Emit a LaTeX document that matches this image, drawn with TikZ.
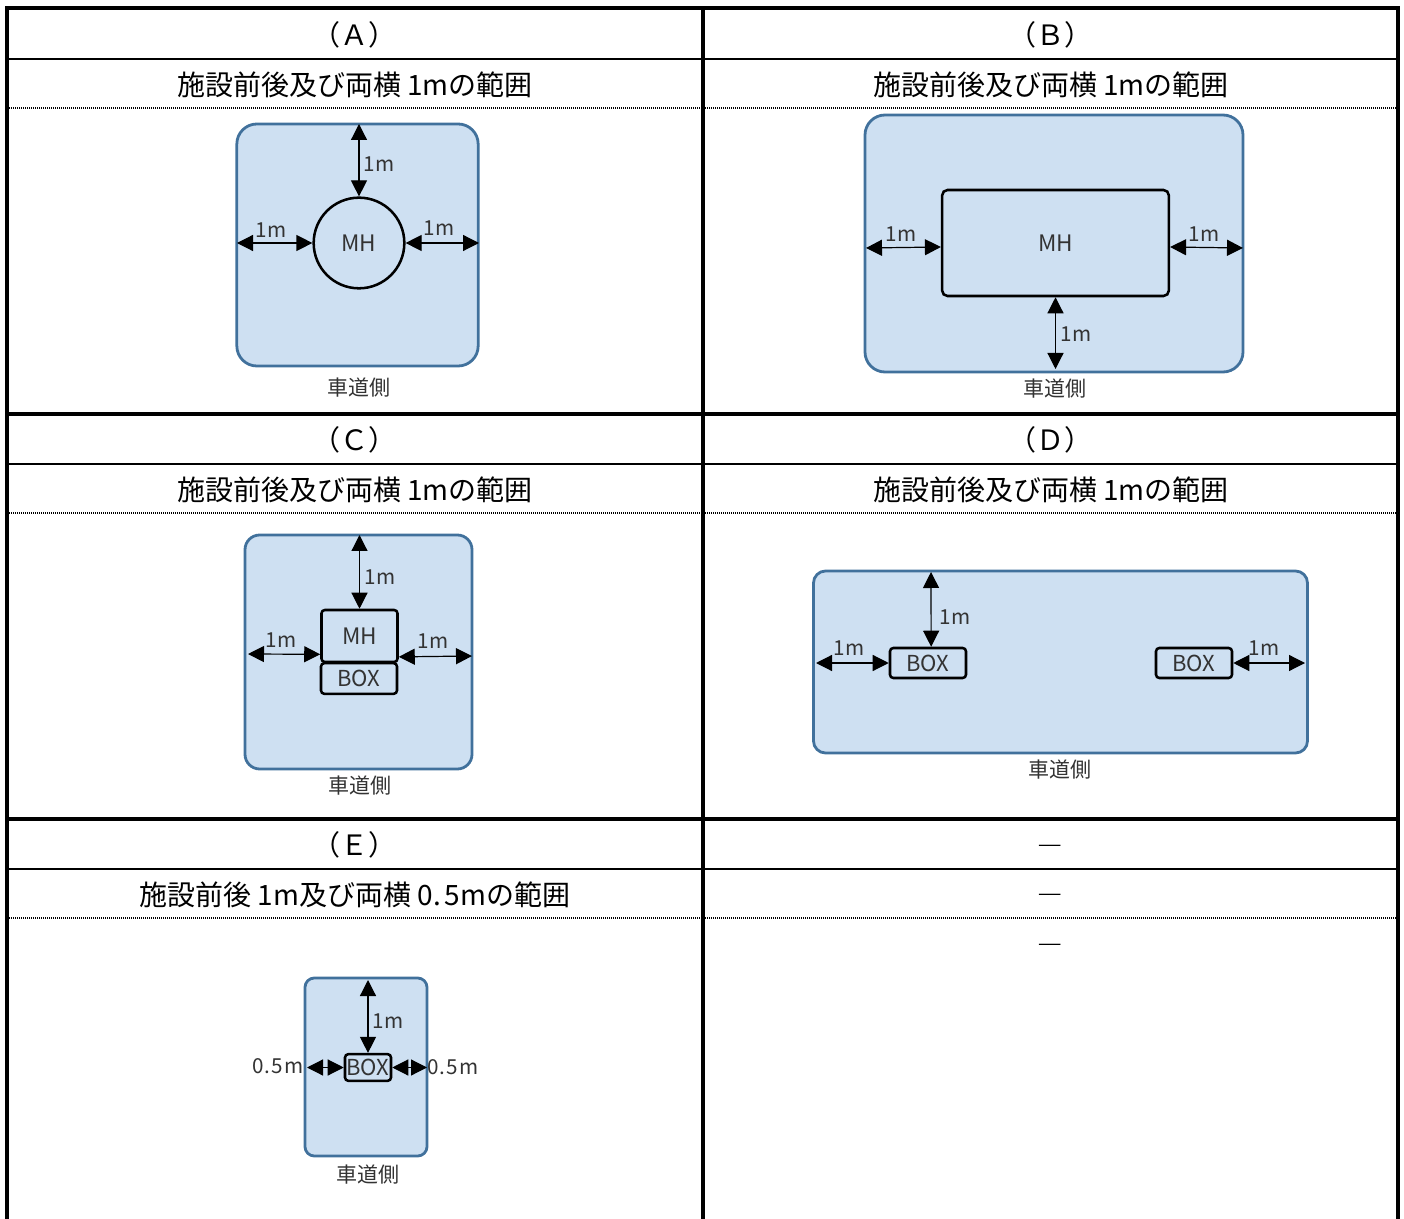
\documentclass[tikz,border=0pt]{standalone}
\usepackage{fontspec}
\newfontfamily\jpfont{Noto Sans CJK JP}
\newfontfamily\labfont[LetterSpace=6]{Noto Sans CJK JP}
\usetikzlibrary{arrows.meta}

\definecolor{zonefill}{HTML}{CEE0F2}
\definecolor{zoneline}{HTML}{41719C}
\definecolor{labgray}{HTML}{333333}

\begin{document}
\begin{tikzpicture}[x=0.75pt,y=-0.75pt]

    \useasboundingbox (0,0) rectangle (1404,1219);

    % table
    \begin{scope}[line cap=rect]
        \draw [line width=3pt] (7,8) -- (1398,8);
        \draw [line width=3pt] (7,8) -- (7,1219);
        \draw [line width=3pt] (703,8) -- (703,1219);
        \draw [line width=3pt] (1398,8) -- (1398,1219);
        \draw [line width=3pt] (7,414) -- (1398,414);
        \draw [line width=3pt] (7,819) -- (1398,819);
        \draw [line width=1.4pt] (7,59) -- (1398,59);
        \draw [line width=1.4pt] (7,464) -- (1398,464);
        \draw [line width=1.4pt] (7,869) -- (1398,869);
    \end{scope}
    \begin{scope}[line width=1.3pt, dash pattern=on 1pt off 0.5pt]
        \draw (9,108) -- (1396,108);
        \draw (9,513) -- (1396,513);
        \draw (9,918) -- (1396,918);
    \end{scope}

    % headings
    \begin{scope}[every node/.style={font=\jpfont\fontsize{21}{24}\selectfont,inner sep=0pt}]
        \node (headA) at (354,35) {（Ａ）};
        \node (headB) at (1050,35) {（Ｂ）};
        \node (headC) at (354,440) {（Ｃ）};
        \node (headD) at (1050,440) {（Ｄ）};
        \node (headE) at (354,845) {（Ｅ）};
        \node (titleA) at (355,84.5) {施設前後及び両横 1mの範囲};
        \node (titleB) at (1051,84.5) {施設前後及び両横 1mの範囲};
        \node (titleC) at (355,489.5) {施設前後及び両横 1mの範囲};
        \node (titleD) at (1051,489.5) {施設前後及び両横 1mの範囲};
        \node (titleE) at (355,894.5) {施設前後 1m及び両横 0.\kern3pt 5mの範囲};
        \node [font=\jpfont\bfseries\fontsize{19}{24}\selectfont] (dash1) at (1050,850) {―};
        \node [font=\jpfont\bfseries\fontsize{19}{24}\selectfont] (dash2) at (1050,899) {―};
        \node [font=\jpfont\bfseries\fontsize{19}{24}\selectfont] (dash3) at (1050,949) {―};
    \end{scope}

    % zones
    \begin{scope}[every node/.style={draw=zoneline,fill=zonefill,line width=2.1pt,rounded corners=15pt,inner sep=0pt}]
        \node [minimum width=181pt,minimum height=181.5pt] (zoneA) at (357.5,245) {};
        \node [minimum width=283.5pt,minimum height=192.75pt] (zoneB) at (1054,243.5) {};
        \node [minimum width=170.25pt,minimum height=175.5pt,rounded corners=11pt] (zoneC) at (358.5,652) {};
        \node [minimum width=370.5pt,minimum height=136.5pt,rounded corners=9pt] (zoneD) at (1060.5,662) {};
        \node [minimum width=91.5pt,minimum height=133.5pt,rounded corners=7pt] (zoneE) at (366,1067) {};
    \end{scope}

    % facilities
    \begin{scope}[every node/.style={draw=black,line width=1.9pt,rounded corners=2.5pt,inner sep=0pt,text=labgray,font=\jpfont\fontsize{16.5}{18}\selectfont}]
        \node [circle,minimum size=68pt,font=\jpfont\fontsize{17}{18}\selectfont] (mhA) at (359,243) {MH};
        \node [minimum width=170pt,minimum height=79.5pt,rounded corners=4pt,font=\jpfont\fontsize{17}{18}\selectfont] (mhB) at (1055.5,243) {MH};
        \node [minimum width=57pt,minimum height=39pt,font=\jpfont\fontsize{17}{18}\selectfont] (mhC) at (359.5,636) {MH};
        \node [minimum width=57pt,minimum height=23pt] (boxC) at (359,678.5) {BOX};
        \node [minimum width=57pt,minimum height=22.5pt] (boxD) at (928,663) {BOX};
        \node [minimum width=57pt,minimum height=22.5pt] (boxDD) at (1194,663) {BOX};
        \node [minimum width=34.5pt,minimum height=20pt] (boxE) at (368,1067.5) {BOX};
    \end{scope}

    % free ends on the zone edges
    \coordinate (topA) at (359,124);
    \coordinate (leftA) at (237,243);
    \coordinate (rightA) at (479,243);
    \coordinate (leftB) at (866,248);
    \coordinate (rightB) at (1243,248);
    \coordinate (botB) at (1055.5,369);
    \coordinate (topC) at (359.5,535);
    \coordinate (leftC) at (248,654);
    \coordinate (rightC) at (472,656);
    \coordinate (topD) at (931,572);
    \coordinate (leftD) at (816,663);
    \coordinate (rightD) at (1305,663);
    \coordinate (topE) at (368,980);
    \coordinate (leftE) at (307,1067.5);
    \coordinate (rightE) at (427,1067.5);

    % measures
    \begin{scope}[>={Triangle[length=12pt,width=12pt]},line width=0.9pt]
        \path [<->] (topA) edge (mhA);
        \path [<->] (leftA) edge (mhA);
        \path [<->] (rightA) edge (mhA);

        \path [<->] (leftB) edge (mhB.182.5);
        \path [<->] (rightB) edge (mhB.-2.5);
        \path [<->] (botB) edge (mhB);

        \path [<->] (topC) edge (mhC);
        \path [<->] (leftC) edge (mhC.205);
        \path [<->] (rightC) edge (mhC.-28);

        \path [<->] (topD) edge (boxD.79);
        \path [<->] (leftD) edge (boxD);
        \path [<->] (rightD) edge (boxDD);

        \path [<->] (topE) edge (boxE);
        \path [<->] (leftE) edge (boxE);
        \path [<->] (rightE) edge (boxE);
    \end{scope}

    % labels
    \begin{scope}[every node/.style={inner sep=0pt,text=labgray,font=\labfont\fontsize{15.5}{18}\selectfont}]
        \node (lenA1) at (379,164) {1m};
        \node (lenA2) at (271,230) {1m};
        \node (lenA3) at (439,228) {1m};
        \node (lenB1) at (901,234) {1m};
        \node (lenB2) at (1204,234) {1m};
        \node (lenB3) at (1076,334) {1m};
        \node (lenC1) at (380,577) {1m};
        \node (lenC2) at (281,640) {1m};
        \node (lenC3) at (433,641) {1m};
        \node (lenD1) at (955,617) {1m};
        \node (lenD2) at (849,648) {1m};
        \node (lenD3) at (1264,648) {1m};
        \node (lenE1) at (388,1021) {1m};
        \node (lenE2) at (278,1066) {0.5m};
        \node (lenE3) at (453,1067) {0.5m};
    \end{scope}

    \begin{scope}[every node/.style={inner sep=0pt,text=labgray,font=\jpfont\fontsize{15.75}{18}\selectfont}]
        \node (roadA) at (359,388) {車道側};
        \node (roadB) at (1055,389) {車道側};
        \node (roadC) at (360,786) {車道側};
        \node (roadD) at (1060,770) {車道側};
        \node (roadE) at (368,1175) {車道側};
    \end{scope}

\end{tikzpicture}
\end{document}
